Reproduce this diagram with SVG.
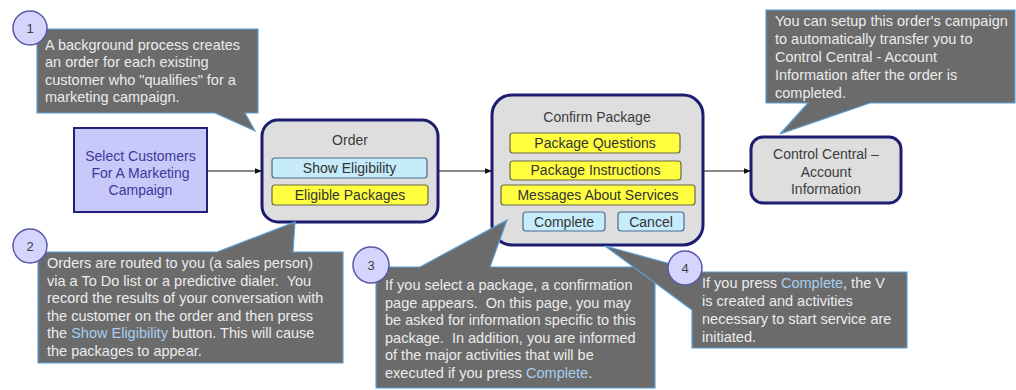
<svg xmlns="http://www.w3.org/2000/svg" width="1016" height="390" viewBox="0 0 1016 390">
<defs>
<marker id="arr" viewBox="0 0 10 10" refX="10" refY="5" markerWidth="7" markerHeight="7" orient="auto" markerUnits="userSpaceOnUse">
<path d="M0,1 L10,5 L0,9 Z" fill="#111"/>
</marker>
</defs>
<style>
text{font-family:"Liberation Sans",Arial,sans-serif}
.node{fill:#dedede;stroke:#1c1c70;stroke-width:3}
.nt{font-size:14px;fill:#3c3c3c;text-anchor:middle}
.yel{fill:#ffff40;stroke:#6a6a44;stroke-width:1.2}
.blu{fill:#c6ecfb;stroke:#4a6a90;stroke-width:1.2}
.bt{font-size:14px;fill:#333;text-anchor:middle}
.co{fill:#6b6b6b;stroke:#5aa0d8;stroke-width:1.2}
.ct{font-size:14.5px;fill:#ececec}
.hl{fill:#a8cdf0}
.num{fill:#d4d4fc;stroke:#5858a8;stroke-width:1.5}
.nn{font-size:13px;fill:#404040;text-anchor:middle}
.conn{stroke:#111;stroke-width:1.2;fill:none;marker-end:url(#arr)}
</style>
<rect width="1016" height="390" fill="#fff"/>

<g id="connectors">
<line class="conn" x1="207" y1="171" x2="262" y2="171"/>
<line class="conn" x1="438" y1="171" x2="492" y2="171"/>
<line class="conn" x1="703" y1="171" x2="751" y2="171"/>
</g>

<g id="select-customers">
<rect x="74" y="128" width="133" height="84" fill="#c8c8fa" stroke="#20207a" stroke-width="2"/>
<text class="nt" x="140.5" y="161" style="fill:#3a3a9a">Select Customers</text>
<text class="nt" x="140.5" y="178" style="fill:#3a3a9a">For A Marketing</text>
<text class="nt" x="140.5" y="195" style="fill:#3a3a9a">Campaign</text>
</g>

<g id="order">
<rect class="node" x="262" y="120" width="176" height="102" rx="16"/>
<text class="nt" x="350" y="145">Order</text>
<rect class="blu" x="272" y="158" width="155" height="20" rx="3"/>
<text class="bt" x="349.5" y="173">Show Eligibility</text>
<rect class="yel" x="272" y="185" width="156" height="20" rx="3"/>
<text class="bt" x="350" y="200">Eligible Packages</text>
</g>

<g id="confirm-package">
<rect class="node" x="492" y="95" width="211" height="150" rx="20"/>
<text class="nt" x="597" y="122">Confirm Package</text>
<rect class="yel" x="510" y="133" width="170" height="20" rx="3"/>
<text class="bt" x="595" y="148">Package Questions</text>
<rect class="yel" x="510" y="161" width="171" height="19" rx="3"/>
<text class="bt" x="595.5" y="175">Package Instructions</text>
<rect class="yel" x="501" y="185" width="194" height="20" rx="3"/>
<text class="bt" x="598" y="200">Messages About Services</text>
<rect class="blu" x="523" y="212" width="82" height="19" rx="3"/>
<text class="bt" x="564" y="227">Complete</text>
<rect class="blu" x="618" y="212" width="66" height="19" rx="3"/>
<text class="bt" x="651" y="227">Cancel</text>
</g>

<g id="control-central">
<rect class="node" x="751" y="137" width="150" height="66" rx="12"/>
<text class="nt" x="826" y="159">Control Central –</text>
<text class="nt" x="826" y="177">Account</text>
<text class="nt" x="826" y="194">Information</text>
</g>

<g id="callout-1">
<path class="co" d="M37,29 H258 V113 H245 L255,131 L215,113 H37 Z"/>
<text class="ct" x="45" y="50">A background process  creates</text>
<text class="ct" x="45" y="67">an order  for each existing</text>
<text class="ct" x="45" y="85">customer who "qualifies"  for a</text>
<text class="ct" x="45" y="102">marketing campaign.</text>
<circle class="num" cx="30" cy="28" r="17"/>
<text class="nn" x="30" y="33">1</text>
</g>

<g id="callout-2">
<path class="co" d="M38,252 H217 L295,222 L293,252 H343 V363 H38 Z"/>
<text class="ct" x="47" y="268">Orders are routed to you (a sales person)</text>
<text class="ct" x="47" y="285.6" xml:space="preserve">via a To Do list or a predictive dialer.  You</text>
<text class="ct" x="47" y="303.2">record the results of your conversation with</text>
<text class="ct" x="47" y="320.8">the customer on the order and then press</text>
<text class="ct" x="47" y="338.4">the <tspan class="hl">Show Eligibility</tspan> button. This will cause</text>
<text class="ct" x="47" y="356">the packages to appear.</text>
<circle class="num" cx="30" cy="246" r="17"/>
<text class="nn" x="30" y="251">2</text>
</g>

<g id="callout-3">
<path class="co" d="M376,267 H420 L507,220 L490,267 H655 V388 H376 Z"/>
<text class="ct" x="385" y="290">If you select a package, a confirmation</text>
<text class="ct" x="385" y="307.6" xml:space="preserve">page appears.  On this page, you may</text>
<text class="ct" x="385" y="325.2">be asked for information specific to this</text>
<text class="ct" x="385" y="342.8" xml:space="preserve">package.  In addition, you are informed</text>
<text class="ct" x="385" y="360.4">of the major activities that will be</text>
<text class="ct" x="385" y="378">executed if you press <tspan class="hl">Complete</tspan>.</text>
<circle class="num" cx="371" cy="265" r="18"/>
<text class="nn" x="371" y="270">3</text>
</g>

<g id="callout-4">
<path class="co" d="M605,246 L700,272 H907 V348 H692 V310 Z"/>
<text class="ct" x="702" y="288">If you press <tspan class="hl">Complete</tspan>, the V</text>
<text class="ct" x="702" y="306">is created and  activities</text>
<text class="ct" x="702" y="324">necessary to start service are</text>
<text class="ct" x="702" y="342">initiated.</text>
<circle class="num" cx="685" cy="268" r="17"/>
<text class="nn" x="685" y="273">4</text>
</g>

<g id="callout-5">
<path class="co" d="M766,10 H1015 V103 H870 L780,134 L808,103 H766 Z"/>
<text class="ct" x="775" y="26">You can setup this order's campaign</text>
<text class="ct" x="775" y="44">to automatically transfer you to</text>
<text class="ct" x="775" y="62">Control Central - Account</text>
<text class="ct" x="775" y="80">Information after the order is</text>
<text class="ct" x="775" y="98">completed.</text>
</g>
</svg>
